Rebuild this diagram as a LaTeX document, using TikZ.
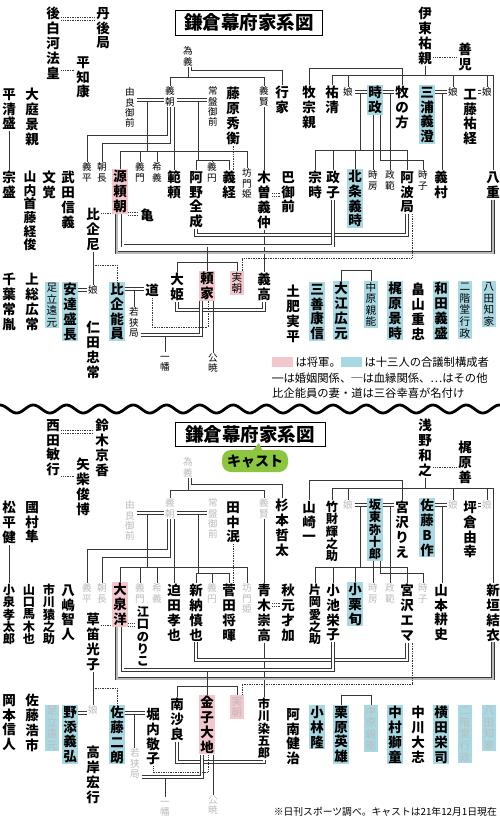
\documentclass[tikz,border=0pt]{standalone}
\usepackage{fontspec}
\setmainfont{Noto Sans CJK JP}
\usetikzlibrary{calc}
\definecolor{shogunc}{RGB}{244,198,206}
\definecolor{councilc}{RGB}{168,216,226}
\definecolor{ghostc}{RGB}{188,188,188}
\definecolor{linec}{RGB}{55,55,55}
\definecolor{castc}{RGB}{140,198,63}
\makeatletter
\newcommand\vtxt[1]{\vtxt@a#1\@nil}
\def\vtxt@a#1#2\@nil{\vphantom{国}#1\ifx\relax#2\relax\expandafter\@gobble\else\expandafter\@firstofone\fi{\\\vtxt@a#2\@nil}}
\makeatother
\newcommand\fnm{\fontsize{13.5}{14.8}\selectfont\bfseries\lineskiplimit=-20pt}
\newcommand\fsix{\fontsize{12.8}{13.6}\selectfont\bfseries\lineskiplimit=-20pt}
\newcommand\ftnm{\fontsize{12.2}{12.3}\selectfont\bfseries\lineskiplimit=-20pt}
\newcommand\fmd{\fontsize{10.6}{11.6}\selectfont\lineskiplimit=-20pt}
\newcommand\fsm{\fontsize{9.6}{10.4}\selectfont\lineskiplimit=-20pt}
\newcommand\flg{\fontsize{11.3}{12}\selectfont}
\newcommand\ftitle{\fontsize{18.5}{20}\selectfont\bfseries}
\tikzset{
  nm/.style      = {anchor=north, align=center, inner xsep=1.5pt, inner ysep=1pt, font=\fnm},
  nmsix/.style   = {nm, font=\fsix},
  tnm/.style     = {nm, font=\ftnm},
  md/.style      = {nm, font=\fmd},
  sm/.style      = {nm, font=\fsm, inner ysep=0.5pt},
  shogun/.style  = {fill=shogunc},
  council/.style = {fill=councilc},
  ghost/.style   = {text=ghostc},
  blood/.style   = {draw=linec, line width=0.7pt},
  marr/.style    = {draw=linec, line width=0.7pt, double=white, double distance=2pt},
  other/.style   = {draw=linec, line width=0.7pt, densely dotted},
  dother/.style  = {other, double=white, double distance=1.8pt},
  swatch/.style  = {minimum width=21pt, minimum height=10pt, inner sep=0pt, anchor=west},
  legend/.style  = {anchor=west, font=\flg, inner sep=0pt},
}

\begin{document}
\begin{tikzpicture}[x=1pt, y=-1pt]
  \useasboundingbox (0,0) rectangle (500,823);
  \fill[white] (0,0) rectangle (500,823);

  % ---------------- historical chart ----------------
  \node[draw, line width=0.9pt, font=\ftitle, minimum width=147pt, minimum height=25pt, inner sep=0pt] (title) at (249,22.5) {鎌倉幕府家系図};

  \node[nm] (shirakawa) at (53,6) {\vtxt{後白河法皇}};
  \node[nm] (tango) at (103,6) {\vtxt{丹後局}};
  \node[nm] (tomoyasu) at (83,55) {\vtxt{平知康}};
  \node[nm] (kiyomori) at (9,87) {\vtxt{平清盛}};
  \node[nm] (oba) at (32,87) {\vtxt{大庭景親}};
  \node[sm] (tameyoshi) at (188,46) {\vtxt{為義}};
  \node[sm] (yura) at (130,87) {\vtxt{由良御前}};
  \node[sm] (yoshitomo) at (170,86) {\vtxt{義朝}};
  \node[sm] (tokiwa) at (213,86) {\vtxt{常盤御前}};
  \node[nm] (hidehira) at (233,86) {\vtxt{藤原秀衡}};
  \node[sm] (yoshikata) at (264,86) {\vtxt{義賢}};
  \node[nm] (yukiie) at (282,85) {\vtxt{行家}};
  \node[nm] (makimune) at (309,85) {\vtxt{牧宗親}};
  \node[nm] (sukekiyo) at (332,85) {\vtxt{祐清}};
  \node[sm] (musumeA) at (348,87) {娘};
  \node[nm, council] (tokimasa) at (375,85) {\vtxt{時政}};
  \node[nm] (makinokata) at (402,85) {\vtxt{牧の方}};
  \node[nm, council] (miura) at (427,85) {\vtxt{三浦義澄}};
  \node[sm] (musumeB) at (453,87) {娘};
  \node[nm] (kudo) at (470,87) {\vtxt{工藤祐経}};
  \node[sm] (musumeC) at (487,87) {娘};
  \node[nm] (ito) at (425,6) {\vtxt{伊東祐親}};
  \node[nm] (zenji) at (465,42) {\vtxt{善児}};

  \node[nm] (munemori) at (9,170) {\vtxt{宗盛}};
  \node[nmsix] (yamanouchi) at (30,170) {\vtxt{山内首藤経俊}};
  \node[nm] (mongaku) at (49,170) {\vtxt{文覚}};
  \node[nm] (takeda) at (68,170) {\vtxt{武田信義}};
  \node[sm] (yoshihira) at (87,162) {\vtxt{義平}};
  \node[sm] (tomonaga) at (102,162) {\vtxt{朝長}};
  \node[nm, shogun] (yoritomo) at (120,169) {\vtxt{源頼朝}};
  \node[sm] (yoshikado) at (140,162) {\vtxt{義門}};
  \node[sm] (mareyoshi) at (157,162) {\vtxt{希義}};
  \node[nm] (noriyori) at (174,170) {\vtxt{範頼}};
  \node[nm] (zenjo) at (196,170) {\vtxt{阿野全成}};
  \node[sm] (gien) at (212,162) {\vtxt{義円}};
  \node[nm] (yoshitsune) at (229,170) {\vtxt{義経}};
  \node[sm] (bomon) at (247,168) {\vtxt{坊門姫}};
  \node[nm] (yoshinaka) at (264,170) {\vtxt{木曽義仲}};
  \node[nm] (tomoe) at (288,170) {\vtxt{巴御前}};
  \node[nm] (munetoki) at (315,170) {\vtxt{宗時}};
  \node[nm] (masako) at (333,170) {\vtxt{政子}};
  \node[nm, council] (yoshitoki) at (355,169) {\vtxt{北条義時}};
  \node[sm] (tokifusa) at (373,170) {\vtxt{時房}};
  \node[sm] (masanori) at (390,170) {\vtxt{政範}};
  \node[nm] (awa) at (407,170) {\vtxt{阿波局}};
  \node[sm] (tokiko) at (423,170) {\vtxt{時子}};
  \node[nm] (yoshimura) at (441,170) {\vtxt{義村}};
  \node[nm] (yae) at (493,170) {\vtxt{八重}};

  \node[nm] (hikiama) at (93,207) {\vtxt{比企尼}};
  \node[nm] (kame) at (147,208) {亀};
  \node[nm] (chiba) at (9,272) {\vtxt{千葉常胤}};
  \node[nm] (kazusa) at (32,272) {\vtxt{上総広常}};
  \node[md, council] (toomoto) at (52,282) {\vtxt{足立遠元}};
  \node[nm, council] (adachi) at (70,282) {\vtxt{安達盛長}};
  \node[sm] (musumeD) at (93,285) {娘};
  \node[nm] (nitta) at (93,320) {\vtxt{仁田忠常}};
  \node[nm, council] (hikiyoshi) at (117,282) {\vtxt{比企能員}};
  \node[nm] (michi) at (152,283) {道};
  \node[sm] (wakasa) at (134,307) {\vtxt{若狭局}};
  \node[nm] (ohime) at (177,272) {\vtxt{大姫}};
  \node[nm, shogun] (yoriie) at (207,271) {\vtxt{頼家}};
  \node[md, shogun] (sanetomo) at (237,271) {\vtxt{実朝}};
  \node[nm] (yoshitaka) at (264,272) {\vtxt{義高}};
  \node[sm] (ichiman) at (165,352) {\vtxt{一幡}};
  \node[sm] (kugyo) at (213,353) {\vtxt{公暁}};
  \node[nm] (dohi) at (293,284) {\vtxt{土肥実平}};
  \node[nm, council] (miyoshi) at (317,282) {\vtxt{三善康信}};
  \node[nm, council] (oe) at (341,281) {\vtxt{大江広元}};
  \node[md, council] (nakahara) at (371,281) {\vtxt{中原親能}};
  \node[nm, council] (kajiwara) at (395,281) {\vtxt{梶原景時}};
  \node[nm] (hatakeyama) at (418,282) {\vtxt{畠山重忠}};
  \node[nm, council] (wada) at (441,281) {\vtxt{和田義盛}};
  \node[md, council] (nikaido) at (465,281) {\vtxt{二階堂行政}};
  \node[md, council] (hatta) at (489,281) {\vtxt{八田知家}};

  % connectors
  \draw[dother] (shirakawa.east |- 0,19) -- (tango.west |- 0,19);
  \draw[other] (shirakawa.east |- 0,70) -- (tomoyasu.west |- 0,70);
  \draw[blood] (kiyomori.south) -- (munemori.north);
  \draw[blood] (tameyoshi.south) -- (tameyoshi.south |- 0,77);
  \draw[blood] (yoshitomo.north) |- (yoshikata.north |- 0,77) -- (yoshikata.north);
  \draw[blood] ([xshift=3pt]tameyoshi.south) |- (yukiie.north |- 0,70) -- (yukiie.north);
  \draw[marr] (yura.east |- 0,100) -- (yoshitomo.west |- 0,100);
  \draw[marr] (yoshitomo.east |- 0,100) -- (tokiwa.west |- 0,100);
  \coordinate (yuraM) at (147,101);
  \coordinate (tokiwaM) at (198,101);
  \draw[blood] (yuraM) -- (yuraM |- 0,151);
  \draw[blood] (yoritomo.north) |- (bomon.north |- 0,151) -- (bomon.north);
  \draw[blood] (yoshikado.north) -- (yoshikado.north |- 0,151);
  \draw[blood] (mareyoshi.north) -- (mareyoshi.north |- 0,151);
  \draw[blood] ([xshift=-3pt]yoshitomo.south) |- (yoshihira.north |- 0,135) -- (yoshihira.north);
  \draw[blood] (yoshitomo.south) |- (tomonaga.north |- 0,143) -- (tomonaga.north);
  \draw[blood] ([xshift=4pt]yoshitomo.south) -- (noriyori.north);
  \draw[blood] (tokiwaM) -- (tokiwaM |- 0,160);
  \draw[blood] (zenjo.north) |- (yoshitsune.north |- 0,160) -- (yoshitsune.north);
  \draw[blood] (gien.north) -- (gien.north |- 0,160);
  \draw[other] (hidehira.south) -- (hidehira.south |- yoshitsune.north);
  \draw[blood] (yoshikata.south) -- (yoshinaka.north);
  \draw[dother] (yoshinaka.east |- 0,195) -- (tomoe.west |- 0,195);
  \draw[blood] (yoshinaka.south) -- (yoshitaka.north);

  \draw[blood] (makimune.north) |- (makinokata.north |- 0,68) -- (makinokata.north);
  \draw[other] (ito.east |- 0,57) -- (zenji.west |- 0,57);
  \draw[blood] (ito.south) -- (ito.south |- 0,75);
  \draw[blood] (sukekiyo.north) |- (yae.north |- 0,75) -- (yae.north);
  \draw[blood] (musumeA.north) -- (musumeA.north |- 0,75);
  \draw[blood] (musumeB.north) -- (musumeB.north |- 0,75);
  \draw[blood] (musumeC.north) -- (musumeC.north |- 0,75);
  \draw[marr] (musumeA.east |- 0,92) -- (tokimasa.west |- 0,92);
  \draw[marr] (tokimasa.east |- 0,92) -- (makinokata.west |- 0,92);
  \draw[marr] (miura.east |- 0,92) -- (musumeB.west |- 0,92);
  \draw[marr] (kudo.east |- 0,92) -- (musumeC.west |- 0,92);
  \coordinate (tokiA) at (360,93);
  \coordinate (tokiB) at (390,93);
  \coordinate (miuraA) at (442,93);
  \draw[blood] (tokiA) -- (tokiA |- 0,150);
  \draw[blood] (munetoki.north) |- (awa.north |- 0,150) -- (awa.north);
  \draw[blood] (masako.north) -- (masako.north |- 0,150);
  \draw[blood] (yoshitoki.north) -- (yoshitoki.north |- 0,150);
  \draw[blood] ([xshift=-2pt]tokimasa.south) -- (tokifusa.north);
  \draw[blood] ([xshift=5pt]tokimasa.south) |- (tokiko.north |- 0,160) -- (tokiko.north);
  \draw[blood] (tokiB) -- (masanori.north);
  \draw[blood] (miuraA) -- (miuraA |- yoshimura.north);

  \draw[dother] (yoritomo.east |- 0,214) -- (kame.west |- 0,214);
  \draw[other] (hikiama.east |- 0,213) -- (yoritomo.west |- 0,213);
  \draw[marr] (zenjo.south) |- (awa.south |- 0,235) -- (awa.south);
  \draw[marr] ([xshift=2.5pt]yoritomo.south) |- (masako.south |- 0,245.5) -- (masako.south);
  \draw[marr, double=gray!55] ([xshift=-3.5pt]yoritomo.south) |- (yae.south |- 0,252.5) -- (yae.south);
  \coordinate (yoritomoM) at (207,247);
  \draw[blood] (yoritomoM) -- (yoriie.north);
  \draw[blood] (ohime.north) |- (sanetomo.north |- 0,262) -- (sanetomo.north);
  \draw[other] ([xshift=5pt]awa.south) |- ([xshift=5pt]sanetomo.north |- 0,258) -- ([xshift=5pt]sanetomo.north);
  \draw[blood] (hikiama.south) -- (musumeD.north);
  \draw[other] (hikiama.south |- 0,265) -| (hikiyoshi.north);
  \draw[marr] (adachi.east |- 0,290) -- (musumeD.west |- 0,290);
  \draw[marr] (hikiyoshi.east |- 0,289) -- (michi.west |- 0,289);
  \coordinate (hikiM) at (134,290);
  \draw[blood] (hikiM) -- (wakasa.north);
  \draw[marr] (ohime.south) |- (yoshitaka.south |- 0,310) -- (yoshitaka.south);
  \draw[marr] ([xshift=-6pt]yoriie.south) |- (wakasa.east |- 0,335);
  \coordinate (wakasaM) at (165,336);
  \draw[blood] (wakasaM) -- (ichiman.north);
  \draw[other] (michi.south) |- ([xshift=1pt]yoriie.south |- 0,327) -- ([xshift=1pt]yoriie.south);
  \draw[blood] ([xshift=6pt]yoriie.south) -- ([xshift=6pt]yoriie.south |- kugyo.north);
  \draw[blood] (oe.north) |- (nakahara.north |- 0,270) -- (nakahara.north);

  % legend
  \node[swatch, fill=shogunc] (swpink) at (272,362) {};
  \node[legend] (lgpink) at ([xshift=2pt]swpink.east) {は将軍。};
  \node[swatch, fill=councilc] (swblue) at (341,362) {};
  \node[legend] (lgblue) at ([xshift=2pt]swblue.east) {は十三人の合議制構成者};
  \node[legend] (lgline) at (272,378) {═は婚姻関係、─は血縁関係、…はその他};
  \node[legend] (lgnote) at (272,393) {比企能員の妻・道は三谷幸喜が名付け};

  % separator
  \draw[line width=2.8pt, line cap=round] plot[domain=0:500, samples=300, smooth] (\x,{409-4*cos(\x*10.81)});

  % ---------------- cast chart ----------------
  \node[draw, line width=0.9pt, font=\ftitle, minimum width=150pt, minimum height=24pt, inner sep=0pt] (title2) at (250,434) {鎌倉幕府家系図};
  \node[fill=castc, rounded corners=9pt, font=\fontsize{14}{15}\selectfont\bfseries, minimum width=66pt, minimum height=22pt, inner sep=0pt] (cast) at (255,461) {キャスト};
  \coordinate (tailtip) at (259,443);
  \fill[castc] ([xshift=-2pt]cast.north) -- (tailtip) -- ([xshift=7pt]cast.north) -- cycle;

  \node[nm] (nishida) at (53,418) {\vtxt{西田敏行}};
  \node[nm] (suzuki) at (102,418) {\vtxt{鈴木京香}};
  \node[nm] (yashiba) at (83,457) {\vtxt{矢柴俊博}};
  \node[nm] (matsudaira) at (9,500) {\vtxt{松平健}};
  \node[nm] (kunimura) at (32,500) {\vtxt{國村隼}};
  \node[sm, ghost] (tameyoshiG) at (188,457) {\vtxt{為義}};
  \node[sm, ghost] (yuraG) at (130,500) {\vtxt{由良御前}};
  \node[sm, ghost] (yoshitomoG) at (170,498) {\vtxt{義朝}};
  \node[sm, ghost] (tokiwaG) at (213,498) {\vtxt{常盤御前}};
  \node[nm] (tanaka) at (233,500) {\vtxt{田中泯}};
  \node[sm, ghost] (yoshikataG) at (264,498) {\vtxt{義賢}};
  \node[nm] (sugimoto) at (282,498) {\vtxt{杉本哲太}};
  \node[nm] (yamazaki) at (309,500) {\vtxt{山崎一}};
  \node[tnm] (takezai) at (332,500) {\vtxt{竹財輝之助}};
  \node[sm, ghost] (musumeE) at (348,500) {娘};
  \node[tnm, council] (bando) at (375,498) {\vtxt{坂東弥十郎}};
  \node[nm] (rie) at (402,500) {\vtxt{宮沢りえ}};
  \node[nm, council] (bsaku) at (427,498) {\vtxt{佐藤B作}};
  \node[sm, ghost] (musumeF) at (453,500) {娘};
  \node[nm] (tsubokura) at (470,500) {\vtxt{坪倉由幸}};
  \node[sm, ghost] (musumeG) at (487,500) {娘};
  \node[nm] (asano) at (425,418) {\vtxt{浅野和之}};
  \node[nm] (zen) at (465,440) {\vtxt{梶原善}};

  \node[tnm] (koizumi) at (9,583) {\vtxt{小泉孝太郎}};
  \node[tnm] (yamaguchi) at (29,583) {\vtxt{山口馬木也}};
  \node[tnm] (ennosuke) at (49,583) {\vtxt{市川猿之助}};
  \node[nm] (yashima) at (68,583) {\vtxt{八嶋智人}};
  \node[sm, ghost] (yoshihiraG) at (87,583) {\vtxt{義平}};
  \node[sm, ghost] (tomonagaG) at (102,583) {\vtxt{朝長}};
  \node[nm, shogun] (oizumi) at (120,582) {\vtxt{大泉洋}};
  \node[sm, ghost] (yoshikadoG) at (140,583) {\vtxt{義門}};
  \node[sm, ghost] (mareyoshiG) at (157,583) {\vtxt{希義}};
  \node[nm] (sakoda) at (174,583) {\vtxt{迫田孝也}};
  \node[nm] (niiro) at (196,583) {\vtxt{新納慎也}};
  \node[sm, ghost] (gienG) at (212,583) {\vtxt{義円}};
  \node[nm] (suda) at (229,583) {\vtxt{菅田将暉}};
  \node[sm, ghost] (bomonG) at (247,583) {\vtxt{坊門姫}};
  \node[nm] (aoki) at (264,583) {\vtxt{青木崇高}};
  \node[nm] (akimoto) at (288,583) {\vtxt{秋元才加}};
  \node[tnm] (kataoka) at (315,583) {\vtxt{片岡愛之助}};
  \node[nm] (koike) at (333,583) {\vtxt{小池栄子}};
  \node[nm, council] (oguri) at (355,582) {\vtxt{小栗旬}};
  \node[sm, ghost] (tokifusaG) at (373,583) {\vtxt{時房}};
  \node[sm, ghost] (masanoriG) at (390,583) {\vtxt{政範}};
  \node[nm] (ema) at (407,583) {\vtxt{宮沢エマ}};
  \node[sm, ghost] (tokikoG) at (423,583) {\vtxt{時子}};
  \node[nm] (yamamoto) at (441,583) {\vtxt{山本耕史}};
  \node[nm] (aragaki) at (493,583) {\vtxt{新垣結衣}};

  \node[nm] (kusabue) at (93,612) {\vtxt{草笛光子}};
  \node[tnm] (eguchi) at (143,605) {\vtxt{江口のりこ}};
  \node[nm] (okamoto) at (9,693) {\vtxt{岡本信人}};
  \node[nm] (koichi) at (32,693) {\vtxt{佐藤浩市}};
  \node[md, council, ghost] (toomotoG) at (52,705) {\vtxt{足立遠元}};
  \node[nm, council] (nozoe) at (70,705) {\vtxt{野添義弘}};
  \node[sm, ghost] (musumeH) at (93,705) {娘};
  \node[nm] (takagishi) at (93,745) {\vtxt{高岸宏行}};
  \node[nm, council] (jiro) at (117,705) {\vtxt{佐藤二朗}};
  \node[nm] (horiuchi) at (153,707) {\vtxt{堀内敬子}};
  \node[sm, ghost] (wakasaG) at (135,748) {\vtxt{若狭局}};
  \node[nm] (minami) at (177,697) {\vtxt{南沙良}};
  \node[nm, shogun] (kaneko) at (207,695) {\vtxt{金子大地}};
  \node[md, shogun, ghost] (sanetomoG) at (237,695) {\vtxt{実朝}};
  \node[tnm] (somegoro) at (264,697) {\vtxt{市川染五郎}};
  \node[sm, ghost] (ichimanG) at (165,797) {\vtxt{一幡}};
  \node[sm, ghost] (kugyoG) at (213,795) {\vtxt{公暁}};
  \node[nm] (anan) at (293,707) {\vtxt{阿南健治}};
  \node[nm, council] (kobayashi) at (317,705) {\vtxt{小林隆}};
  \node[nm, council] (kurihara) at (341,705) {\vtxt{栗原英雄}};
  \node[md, council, ghost] (nakaharaG) at (371,705) {\vtxt{中原親能}};
  \node[nm, council] (shido) at (395,705) {\vtxt{中村獅童}};
  \node[nm] (nakagawa) at (418,705) {\vtxt{中川大志}};
  \node[nm, council] (yokota) at (441,705) {\vtxt{横田栄司}};
  \node[md, council, ghost] (nikaidoG) at (465,705) {\vtxt{二階堂行政}};
  \node[md, council, ghost] (hattaG) at (489,705) {\vtxt{八田知家}};

  % connectors
  \draw[dother] (nishida.east |- 0,432) -- (suzuki.west |- 0,432);
  \draw[other] (nishida.east |- 0,476) -- (yashiba.west |- 0,476);
  \draw[blood] (matsudaira.south) -- (koizumi.north);
  \draw[blood] (tameyoshiG.south) -- (tameyoshiG.south |- 0,490);
  \draw[blood] (yoshitomoG.north) |- (yoshikataG.north |- 0,490) -- (yoshikataG.north);
  \draw[blood] ([xshift=3pt]tameyoshiG.south) |- (sugimoto.north |- 0,484) -- (sugimoto.north);
  \draw[marr] (yuraG.east |- 0,513) -- (yoshitomoG.west |- 0,513);
  \draw[marr] (yoshitomoG.east |- 0,513) -- (tokiwaG.west |- 0,513);
  \coordinate (yuraGM) at (147,514);
  \coordinate (tokiwaGM) at (198,514);
  \draw[blood] (yuraGM) -- (yuraGM |- 0,567);
  \draw[blood] (oizumi.north) |- (bomonG.north |- 0,567) -- (bomonG.north);
  \draw[blood] (yoshikadoG.north) -- (yoshikadoG.north |- 0,567);
  \draw[blood] (mareyoshiG.north) -- (mareyoshiG.north |- 0,567);
  \draw[blood] ([xshift=-3pt]yoshitomoG.south) |- (yoshihiraG.north |- 0,549) -- (yoshihiraG.north);
  \draw[blood] (yoshitomoG.south) |- (tomonagaG.north |- 0,557) -- (tomonagaG.north);
  \draw[blood] ([xshift=4pt]yoshitomoG.south) -- (sakoda.north);
  \draw[blood] (tokiwaGM) -- (tokiwaGM |- 0,573);
  \draw[blood] (niiro.north) |- (suda.north |- 0,573) -- (suda.north);
  \draw[blood] (gienG.north) -- (gienG.north |- 0,573);
  \draw[other] (tanaka.south) -- (tanaka.south |- suda.north);
  \draw[blood] (yoshikataG.south) -- (aoki.north);
  \draw[dother] (aoki.east |- 0,605) -- (akimoto.west |- 0,605);
  \draw[blood] (aoki.south) -- (somegoro.north);

  \draw[blood] (yamazaki.north) |- (rie.north |- 0,480) -- (rie.north);
  \draw[other] (asano.east |- 0,467) -- (zen.west |- 0,467);
  \draw[blood] (asano.south) -- (asano.south |- 0,488);
  \draw[blood] (takezai.north) |- (aragaki.north |- 0,488) -- (aragaki.north);
  \draw[blood] (musumeE.north) -- (musumeE.north |- 0,488);
  \draw[blood] (musumeF.north) -- (musumeF.north |- 0,488);
  \draw[blood] (musumeG.north) -- (musumeG.north |- 0,488);
  \draw[marr] (musumeE.east |- 0,505) -- (bando.west |- 0,505);
  \draw[marr] (bando.east |- 0,505) -- (rie.west |- 0,505);
  \draw[marr] (bsaku.east |- 0,505) -- (musumeF.west |- 0,505);
  \draw[marr] (tsubokura.east |- 0,505) -- (musumeG.west |- 0,505);
  \coordinate (bandoA) at (360,506);
  \coordinate (bandoB) at (390,506);
  \coordinate (bsakuA) at (442,506);
  \draw[blood] (bandoA) -- (bandoA |- 0,567);
  \draw[blood] (kataoka.north) |- (ema.north |- 0,567) -- (ema.north);
  \draw[blood] (koike.north) -- (koike.north |- 0,567);
  \draw[blood] (oguri.north) -- (oguri.north |- 0,567);
  \draw[blood] ([xshift=-2pt]bando.south) -- (tokifusaG.north);
  \draw[blood] ([xshift=5pt]bando.south) |- (tokikoG.north |- 0,573) -- (tokikoG.north);
  \draw[blood] (bandoB) -- (masanoriG.north);
  \draw[blood] (bsakuA) -- (bsakuA |- yamamoto.north);

  \draw[dother] (oizumi.east |- 0,625) -- (eguchi.west |- 0,625);
  \draw[other] (kusabue.east |- 0,625) -- (oizumi.west |- 0,625);
  \draw[marr] (niiro.south) |- (ema.south |- 0,660) -- (ema.south);
  \draw[marr] ([xshift=2.5pt]oizumi.south) |- (koike.south |- 0,670) -- (koike.south);
  \draw[marr, double=gray!55] ([xshift=-3.5pt]oizumi.south) |- (aragaki.south |- 0,678.5) -- (aragaki.south);
  \coordinate (oizumiM) at (207,671.5);
  \draw[blood] (oizumiM) -- (kaneko.north);
  \draw[blood] (minami.north) |- (sanetomoG.north |- 0,686) -- (sanetomoG.north);
  \draw[other] ([xshift=5pt]ema.south) |- ([xshift=5pt]sanetomoG.north |- 0,684) -- ([xshift=5pt]sanetomoG.north);
  \draw[blood] (kusabue.south) -- (musumeH.north);
  \draw[other] (kusabue.south |- 0,688) -| (jiro.north);
  \draw[marr] (nozoe.east |- 0,713) -- (musumeH.west |- 0,713);
  \draw[marr] (jiro.east |- 0,713) -- (horiuchi.west |- 0,713);
  \coordinate (jiroM) at (134,714);
  \draw[blood] (jiroM) -- (jiroM |- wakasaG.north);
  \draw[marr] (minami.south) |- (somegoro.south |- 0,762) -- (somegoro.south);
  \draw[marr] ([xshift=-5pt]kaneko.south) |- (wakasaG.east |- 0,777);
  \coordinate (wakasaGM) at (165,778);
  \draw[blood] (wakasaGM) -- (ichimanG.north);
  \draw[other] (horiuchi.south) |- ([xshift=1pt]kaneko.south |- 0,772) -- ([xshift=1pt]kaneko.south);
  \draw[blood] ([xshift=6pt]kaneko.south) -- ([xshift=6pt]kaneko.south |- kugyoG.north);
  \draw[blood] (kurihara.north) |- (nakaharaG.north |- 0,695) -- (nakaharaG.north);

  \node[anchor=east, font=\fontsize{9.8}{11}\selectfont, inner sep=0pt] (source) at (497,812) {※日刊スポーツ調べ。キャストは21年12月1日現在};
\end{tikzpicture}
\end{document}
